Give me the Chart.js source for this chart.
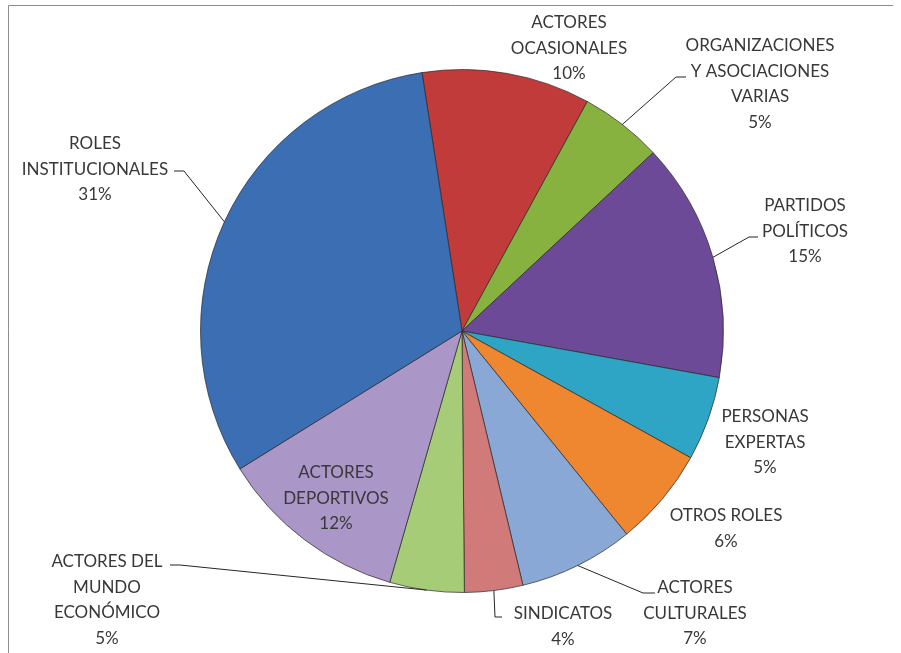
<!DOCTYPE html>
<html>
<head>
<meta charset="utf-8">
<script src="https://cdn.jsdelivr.net/npm/chart.js@4.4.1/dist/chart.umd.min.js"></script>
<style>
  html, body { margin: 0; padding: 0; background: #fff; }
  #wrap { position: relative; width: 901px; height: 653px; }
</style>
</head>
<body>
<div id="wrap"><canvas id="myChart" width="901" height="653"></canvas></div>
<script>
const categories = [
  ['ACTORES', 'OCASIONALES'],
  ['ORGANIZACIONES', 'Y ASOCIACIONES', 'VARIAS'],
  ['PARTIDOS', 'POLÍTICOS'],
  ['PERSONAS', 'EXPERTAS'],
  ['OTROS ROLES'],
  ['ACTORES', 'CULTURALES'],
  ['SINDICATOS'],
  ['ACTORES DEL', 'MUNDO', 'ECONÓMICO'],
  ['ACTORES', 'DEPORTIVOS'],
  ['ROLES', 'INSTITUCIONALES']
];
const shares = [10.4, 5.1, 14.8, 5.2, 6.1, 7.1, 3.6, 4.6, 11.7, 31.4];
const sliceColors = ['#C13B3B', '#88B23F', '#6D4A98', '#2FA5C6', '#EF8630',
  '#8AA8D6', '#D07B79', '#A7CC78', '#AA97C8', '#3C6EB4'];

// where each label block sits, px from the pie centre (first text line)
const labelSpots = [
  [107, -308], [298, -285], [343, -125], [303, 86], [264, 185],
  [233, 257], [101, 283], [-355, 231], [-126, 142], [-367, -187]
];
// leader line elbow + short tail, null = no leader
const leaderSpots = [
  null, [214, -254, 10], [287, -94, 9], null, null,
  [181, 262, 12], [33, 286, 7], [-282, 234, -10], null, [-278, -160, -10]
];

const labelPlugin = {
  id: 'pieLabels',
  afterDraw(chart) {
    const ctx = chart.ctx;
    const meta = chart.getDatasetMeta(0);
    const total = shares.reduce((a, b) => a + b, 0);

    // outer frame
    ctx.save();
    ctx.strokeStyle = '#8c8c8c';
    ctx.lineWidth = 1;
    ctx.beginPath();
    ctx.moveTo(8.5, 653);
    ctx.lineTo(8.5, 5.5);
    ctx.lineTo(893, 5.5);
    ctx.stroke();

    ctx.font = '17px Lato';
    ctx.fillStyle = '#383838';
    ctx.textAlign = 'center';
    ctx.textBaseline = 'middle';

    meta.data.forEach((arc, i) => {
      const p = arc.getProps(['x', 'y', 'startAngle', 'endAngle', 'outerRadius'], true);
      const lines = categories[i].concat([Math.round(shares[i] / total * 100) + '%']);
      const [lx, ly] = labelSpots[i];
      lines.forEach((t, k) => {
        ctx.fillText(t, p.x + lx, p.y + ly + k * 25.5);
      });

      const lead = leaderSpots[i];
      if (lead) {
        const mid = (p.startAngle + p.endAngle) / 2;
        ctx.strokeStyle = '#262626';
        ctx.beginPath();
        ctx.moveTo(p.x + Math.cos(mid) * p.outerRadius, p.y + Math.sin(mid) * p.outerRadius);
        ctx.lineTo(p.x + lead[0], p.y + lead[1]);
        ctx.lineTo(p.x + lead[0] + lead[2], p.y + lead[1]);
        ctx.stroke();
      }
    });
    ctx.restore();
  }
};

const ctx = document.getElementById('myChart').getContext('2d');
const myChart = new Chart(ctx, {
  type: 'pie',
  data: {
    labels: categories.map(c => c.join(' ')),
    datasets: [{
      data: shares,
      backgroundColor: sliceColors,
      borderColor: 'rgba(40, 40, 40, 0.7)',
      borderWidth: 1
    }]
  },
  options: {
    responsive: false,
    animation: false,
    rotation: -8.8,
    layout: { padding: { left: 200, right: 177, top: 69, bottom: 60 } },
    plugins: {
      legend: { display: false },
      tooltip: { enabled: false }
    }
  },
  plugins: [labelPlugin]
});
</script>
</body>
</html>
